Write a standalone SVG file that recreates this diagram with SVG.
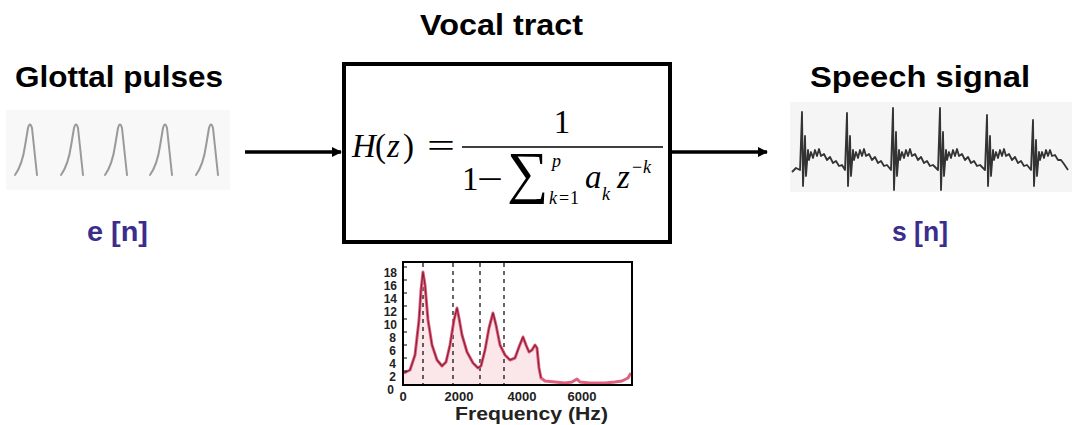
<svg xmlns="http://www.w3.org/2000/svg" width="1073" height="425" viewBox="0 0 1073 425">
<style>
.title{font-family:"Liberation Sans",Arial,sans-serif;font-weight:bold;font-size:30px;fill:#000}
.sig{font-family:"Liberation Sans",Arial,sans-serif;font-weight:bold;font-size:27px;fill:#3a2d8c}
.m{font-family:"Liberation Serif","Times New Roman",serif;font-size:33px;fill:#000}
.mi{font-style:italic}
.ms{font-family:"Liberation Serif","Times New Roman",serif;font-size:18px;fill:#000}
.ax{font-family:"Liberation Sans",Arial,sans-serif;font-weight:bold;fill:#222}
.pulse{fill:none;stroke:#9a9a9a;stroke-width:2;stroke-linejoin:round;stroke-linecap:round}
.conn{stroke:#000;stroke-width:3.5;fill:none}
</style>
<defs>
<marker id="ah" markerWidth="10" markerHeight="10" refX="9" refY="5" orient="auto" markerUnits="userSpaceOnUse" viewBox="0 0 10 10">
<path d="M0,0 L10,5 L0,10 Z" fill="#000"/>
</marker>
<path id="pl" d="M0,53 C5,46 8,38 10,24 L13,6 Q15,-1 17,6 L22,53"/>
</defs>
<rect width="1073" height="425" fill="#fff"/>

<g id="glottal">
<rect x="6" y="110" width="224" height="80" fill="#f8f8f8"/>
<text class="title" x="15" y="87" textLength="208" lengthAdjust="spacingAndGlyphs">Glottal pulses</text>
<g class="pulse">
<use href="#pl" x="15" y="122"/>
<use href="#pl" x="61" y="122"/>
<use href="#pl" x="105" y="122"/>
<use href="#pl" x="150" y="122"/>
<use href="#pl" x="196" y="122"/>
</g>
<text class="sig" x="87" y="241" textLength="61" lengthAdjust="spacingAndGlyphs">e [n]</text>
</g>

<g id="vocal">
<text class="title" x="420" y="35" textLength="163" lengthAdjust="spacingAndGlyphs">Vocal tract</text>
<rect x="344" y="64" width="326" height="178" fill="#fff" stroke="#000" stroke-width="4"/>
<text class="m" y="157"><tspan class="mi" x="352">H</tspan><tspan x="375">(</tspan><tspan class="mi" x="387">z</tspan><tspan x="403">)</tspan></text>
<text class="m" x="427" y="157" textLength="28" lengthAdjust="spacingAndGlyphs">=</text>
<text class="m" x="562" y="133" text-anchor="middle">1</text>
<line x1="462" y1="147" x2="663" y2="147" stroke="#000" stroke-width="1.6"/>
<text class="m" x="462" y="190">1</text>
<text class="m" x="477" y="190" textLength="26" lengthAdjust="spacingAndGlyphs">−</text>
<text class="m" x="507" y="192" style="font-size:58px">∑</text>
<text class="ms mi" x="552" y="167">p</text>
<text class="ms" y="204"><tspan class="mi" x="549">k</tspan><tspan x="559">=</tspan><tspan x="570">1</tspan></text>
<text class="m mi" x="585" y="188">a</text>
<text class="ms mi" x="602" y="200">k</text>
<text class="m mi" x="617" y="188">z</text>
<text class="ms" y="173"><tspan x="632">−</tspan><tspan class="mi" x="643">k</tspan></text>
</g>

<g id="speech">
<rect x="790" y="102" width="282" height="90" fill="#f5f5f5"/>
<text class="title" x="810" y="87" textLength="220" lengthAdjust="spacingAndGlyphs">Speech signal</text>
<path fill="none" stroke="#333" stroke-width="1.8" stroke-linejoin="round" d="M792,172 L796,168 L800,170
L802,112 L803,186 L805,136 L806,176 L808,150 L809,160 L811,152 L813,158 L815,150 L817,156 L819,149 L821,156 L824,154 L827,160 L830,157 L833,163 L836,161 L839,166 L842,165 L845,170
L847,113 L848,186 L850,136 L851,176 L853,150 L854,160 L856,152 L858,158 L860,150 L862,156 L864,149 L866,156 L869,154 L872,160 L875,157 L878,163 L881,161 L884,166 L887,165 L891,170
L893,108 L894,190 L896,132 L897,176 L899,150 L900,160 L902,152 L904,158 L906,150 L908,156 L910,149 L912,156 L915,154 L918,160 L921,157 L924,163 L927,161 L930,166 L933,165 L938,170
L940,108 L941,190 L943,132 L944,176 L946,150 L947,160 L949,152 L951,158 L953,150 L955,156 L957,149 L959,156 L962,154 L965,160 L968,157 L971,163 L974,161 L977,166 L980,165 L985,170
L987,115 L988,186 L990,136 L991,176 L993,150 L994,160 L996,152 L998,158 L1000,150 L1002,156 L1004,149 L1006,156 L1009,154 L1012,160 L1015,157 L1018,163 L1021,161 L1024,166 L1027,165 L1031,170
L1033,120 L1034,186 L1036,140 L1037,176 L1039,152 L1040,160 L1042,152 L1044,158 L1046,150 L1048,156 L1050,150 L1052,156 L1055,155 L1058,160 L1061,160 L1064,164 L1068,170"/>
<text class="sig" x="892" y="241" textLength="56" lengthAdjust="spacingAndGlyphs">s [n]</text>
</g>

<g id="spectrum">
<path fill="#fbe6ea" d="M404,373 L410,370 L415,355 L419,320 L421,290 L423,272 L425,285 L428,320 L432,345 L437,360 L442,366 L446,362 L450,345 L454,320 L457,308 L459,318 L462,335 L467,352 L473,363 L478,368 L481,366 L485,350 L489,328 L493,313 L496,325 L500,345 L505,355 L510,360 L515,358 L519,347 L523,337 L526,345 L529,352 L532,350 L535,345 L537,348 L539,368 L541,378 L541,384 L404,384 Z"/>
<g stroke="#000" stroke-width="1.2" stroke-dasharray="4,4">
<line x1="423" y1="263" x2="423" y2="384"/>
<line x1="453" y1="263" x2="453" y2="384"/>
<line x1="480" y1="263" x2="480" y2="384"/>
<line x1="504" y1="263" x2="504" y2="384"/>
</g>
<polyline fill="none" stroke="#e0607f" stroke-width="3" stroke-linejoin="round" points="404,373 410,370 415,355 419,320 421,290 423,272 425,285 428,320 432,345 437,360 442,366 446,362 450,345 454,320 457,308 459,318 462,335 467,352 473,363 478,368 481,366 485,350 489,328 493,313 496,325 500,345 505,355 510,360 515,358 519,347 523,337 526,345 529,352 532,350 535,345 537,348 539,368 541,378 545,381 555,382 565,383 572,382 577,379 580,382 590,383 605,383 615,382 622,381 628,378 631,373"/>
<polyline fill="none" stroke="#8c2035" stroke-width="1.2" stroke-linejoin="round" points="404,373 410,370 415,355 419,320 421,290 423,272 425,285 428,320 432,345 437,360 442,366 446,362 450,345 454,320 457,308 459,318 462,335 467,352 473,363 478,368 481,366 485,350 489,328 493,313 496,325 500,345 505,355 510,360 515,358 519,347 523,337 526,345 529,352 532,350 535,345 537,348 539,368 541,378"/>
<rect x="403" y="262" width="229" height="123" fill="none" stroke="#000" stroke-width="2"/>
<g stroke="#000" stroke-width="1">
<line x1="403" y1="371" x2="407" y2="371"/><line x1="403" y1="358" x2="407" y2="358"/><line x1="403" y1="345" x2="407" y2="345"/><line x1="403" y1="332" x2="407" y2="332"/><line x1="403" y1="319" x2="407" y2="319"/><line x1="403" y1="306" x2="407" y2="306"/><line x1="403" y1="293" x2="407" y2="293"/><line x1="403" y1="280" x2="407" y2="280"/><line x1="403" y1="267" x2="407" y2="267"/>
</g>
<g class="ax" font-size="12" text-anchor="end">
<text x="394" y="394">0</text>
<text x="396" y="381">2</text>
<text x="396" y="368">4</text>
<text x="396" y="355">6</text>
<text x="396" y="342">8</text>
<text x="397" y="329">10</text>
<text x="397" y="316">12</text>
<text x="397" y="303">14</text>
<text x="397" y="290">16</text>
<text x="397" y="277">18</text>
</g>
<g class="ax" font-size="13" text-anchor="middle" font-weight="normal">
<text x="403" y="401">0</text>
<text x="459" y="401">2000</text>
<text x="522" y="401">4000</text>
<text x="582" y="401">6000</text>
</g>
<text class="ax" x="455" y="420" font-size="19" textLength="153" lengthAdjust="spacingAndGlyphs">Frequency (Hz)</text>
</g>

<g id="connectors">
<line class="conn" x1="245" y1="152" x2="341" y2="152" marker-end="url(#ah)"/>
<line class="conn" x1="672" y1="152" x2="767" y2="152" marker-end="url(#ah)"/>
</g>
</svg>
